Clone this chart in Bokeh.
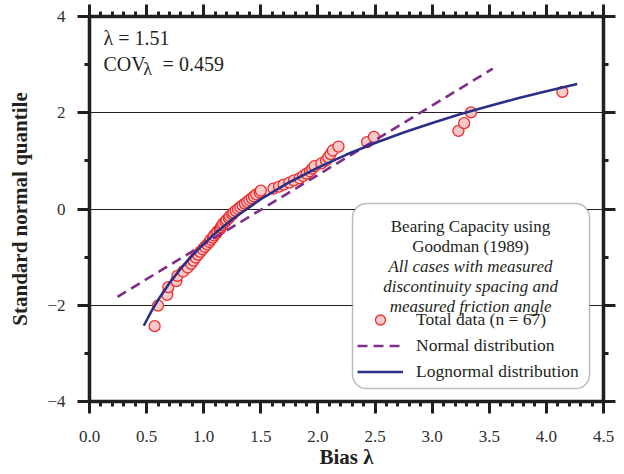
from bokeh.plotting import figure
from bokeh.models import (Range1d, LinearAxis, SingleIntervalTicker, NumeralTickFormatter,
                          Legend, LegendItem, Label, BoxAnnotation, Grid, CustomLabelingPolicy)
from bokeh.embed import file_html
from bokeh.resources import INLINE

# ---------------- data ----------------
bias = [0.57, 0.60, 0.68, 0.69, 0.76, 0.77, 0.82, 0.86, 0.89, 0.91,
        0.93, 0.95, 0.97, 0.99, 1.01, 1.03, 1.05, 1.06, 1.08, 1.09,
        1.11, 1.12, 1.14, 1.15, 1.16, 1.17, 1.19, 1.20, 1.22, 1.23,
        1.25, 1.26, 1.28, 1.30, 1.32, 1.34, 1.36, 1.38, 1.40, 1.42,
        1.44, 1.46, 1.49, 1.50, 1.61, 1.66, 1.70, 1.75, 1.79, 1.84,
        1.87, 1.90, 1.93, 1.95, 1.97, 2.03, 2.07, 2.09, 2.11, 2.13,
        2.18, 2.43, 2.49, 3.23, 3.28, 3.34, 4.14]
quantile = [-2.435, -2.007, -1.783, -1.624, -1.497, -1.391, -1.298, -1.216, -1.141, -1.072,
            -1.008, -0.947, -0.890, -0.836, -0.784, -0.734, -0.686, -0.639, -0.594, -0.550,
            -0.507, -0.465, -0.424, -0.383, -0.343, -0.304, -0.265, -0.227, -0.188, -0.150,
            -0.113, -0.075, -0.037, 0.000, 0.037, 0.075, 0.113, 0.150, 0.188, 0.227,
            0.265, 0.304, 0.343, 0.383, 0.424, 0.465, 0.507, 0.550, 0.594, 0.639,
            0.686, 0.734, 0.784, 0.836, 0.890, 0.947, 1.008, 1.072, 1.141, 1.216,
            1.298, 1.391, 1.497, 1.624, 1.783, 2.007, 2.435]

normal_bias = [0.245, 3.53]
normal_quantile = [-1.825, 2.915]

lognormal_bias = [0.475, 0.55, 0.6, 0.7, 0.8, 0.9, 1.0, 1.1, 1.25, 1.5, 1.75,
                  2.0, 2.25, 2.5, 2.75, 3.0, 3.25, 3.5, 3.75, 4.0, 4.27]
lognormal_quantile = [-2.426, -2.091, -1.892, -1.539, -1.234, -0.965, -0.724, -0.506,
                      -0.214, 0.204, 0.556, 0.861, 1.131, 1.371, 1.590, 1.788, 1.972,
                      2.141, 2.299, 2.446, 2.596]

mean_text = "λ = 1.51"
cov_text = "= 0.459"
legend_title = ["Bearing Capacity using", "Goodman (1989)"]
legend_note = ["All cases with measured", "discontinuity spacing and", "measured friction angle"]
series_labels = ["Total data (n = 67)", "Normal distribution", "Lognormal distribution"]

FONT = "Liberation Serif"
INK = "#231f20"

p = figure(width=624, height=474, output_backend="svg", toolbar_location=None,
           x_range=Range1d(0, 4.5), y_range=Range1d(-4, 4),
           x_axis_type=None, y_axis_type=None,
           min_border_left=89, min_border_right=21, min_border_top=16, min_border_bottom=73)
p.outline_line_color = None
p.background_fill_color = "white"

xt = SingleIntervalTicker(interval=0.5, num_minor_ticks=5)
yt = SingleIntervalTicker(interval=2, num_minor_ticks=2)


def style(ax, tick_out=12, minor_out=5):
    ax.axis_line_width = 3.5
    ax.axis_line_color = INK
    ax.major_tick_line_width = 3
    ax.minor_tick_line_width = 3
    ax.major_tick_line_color = INK
    ax.minor_tick_line_color = INK
    ax.major_tick_in = 0
    ax.minor_tick_in = 0
    ax.major_tick_out = tick_out
    ax.minor_tick_out = minor_out
    ax.major_label_text_font = FONT
    ax.major_label_text_font_size = "17px"
    ax.major_label_text_color = "#2e2e2e"
    ax.axis_label_text_font = FONT
    ax.axis_label_text_font_size = "21px"
    ax.axis_label_text_font_style = "bold"
    ax.axis_label_text_color = INK


bottom = LinearAxis(ticker=xt, formatter=NumeralTickFormatter(format="0.0"), axis_label="Bias λ")
style(bottom)
bottom.major_label_standoff = 17
bottom.axis_label_standoff = 0
p.add_layout(bottom, "below")

left = LinearAxis(ticker=yt, axis_label="Standard normal quantile")
style(left)
left.major_label_standoff = 12
left.axis_label_standoff = 12
p.add_layout(left, "left")

hide_all = CustomLabelingPolicy(code="return false")

top = LinearAxis(ticker=xt)
style(top)
top.major_label_text_font_size = "0px"
top.major_label_standoff = 0
top.major_label_policy = hide_all
p.add_layout(top, "above")

right = LinearAxis(ticker=yt)
style(right)
right.major_label_text_font_size = "0px"
right.major_label_standoff = 0
right.major_label_policy = hide_all
p.add_layout(right, "right")

p.add_layout(Grid(dimension=1, ticker=yt, grid_line_color=INK, grid_line_width=1.2))

r_pts = p.scatter(bias, quantile, marker="circle", size=11, fill_color="#f7c9c9",
                  line_color="#ee2c2c", line_width=1.3)
r_norm = p.line(normal_bias, normal_quantile, line_color="#7f2d8a", line_width=2.6,
                line_dash="10 6")
r_log = p.line(lognormal_bias, lognormal_quantile, line_color="#2b2f86", line_width=2.6)

# top-left statistics
p.add_layout(Label(x=0.1226, y=3.543, text=mean_text, text_font=FONT, text_font_size="20px",
                   text_color=INK, text_baseline="alphabetic"))
p.add_layout(Label(x=0.1226, y=3.023, text="COV", text_font=FONT, text_font_size="20px",
                   text_color=INK, text_baseline="alphabetic"))
p.add_layout(Label(x=0.471, y=2.919, text="λ", text_font=FONT, text_font_size="18px",
                   text_color=INK, text_baseline="alphabetic"))
p.add_layout(Label(x=0.64, y=3.023, text=cov_text, text_font=FONT, text_font_size="20px",
                   text_color=INK, text_baseline="alphabetic"))

# legend box
p.add_layout(BoxAnnotation(left=2.303, right=4.378, top=0.114, bottom=-3.73,
                           fill_color="white", fill_alpha=1.0, line_color=INK,
                           line_width=1.5, border_radius=14))
lines = legend_title + legend_note
styles = ["normal"] * len(legend_title) + ["italic"] * len(legend_note)
ys = [-0.364, -0.779, -1.195, -1.61, -2.026]
for t, s, yy in zip(lines, styles, ys):
    p.add_layout(Label(x=3.336, y=yy, text=t, text_font=FONT, text_font_size="17px",
                       text_font_style=s, text_color=INK, text_align="center",
                       text_baseline="alphabetic"))

legend = Legend(items=[LegendItem(label=series_labels[0], renderers=[r_pts]),
                       LegendItem(label=series_labels[1], renderers=[r_norm]),
                       LegendItem(label=series_labels[2], renderers=[r_log])],
                location=(268, 17), padding=0, margin=0, spacing=1,
                glyph_width=46, glyph_height=25, label_height=20, label_standoff=13,
                label_text_font=FONT, label_text_font_size="17.5px", label_text_color=INK,
                background_fill_alpha=0, border_line_color=None)
p.add_layout(legend)

open("out.html", "w").write(file_html(p, INLINE))
